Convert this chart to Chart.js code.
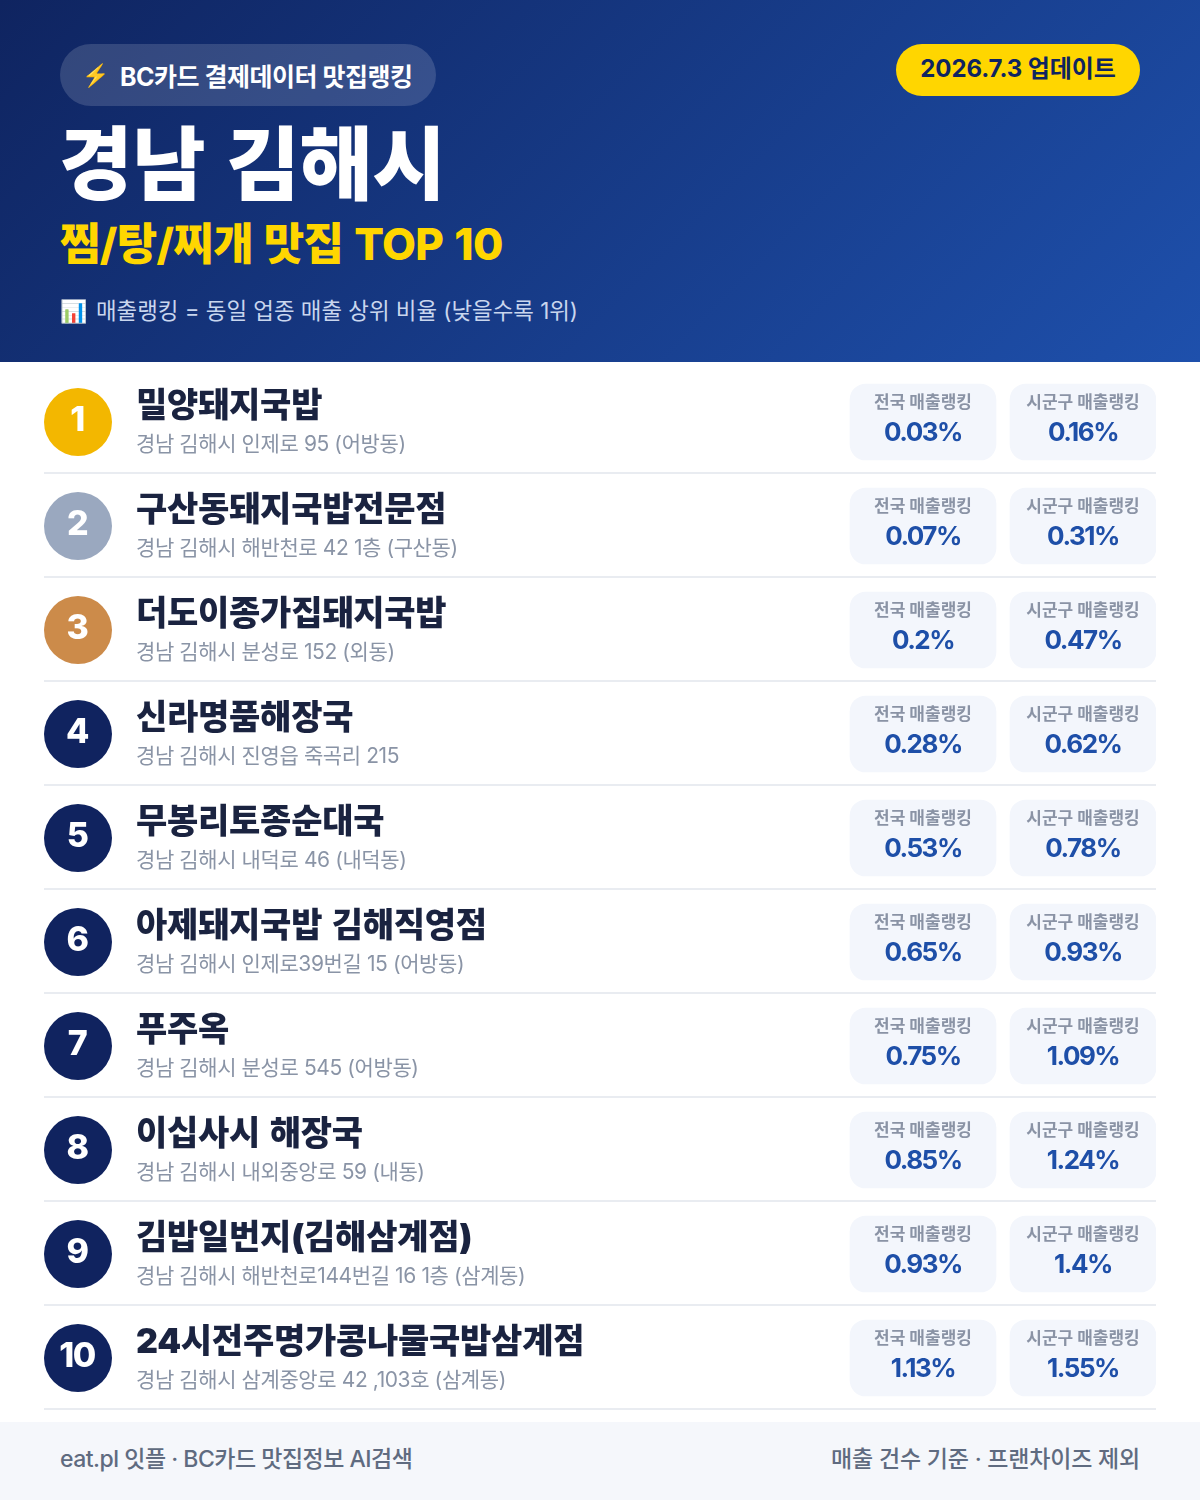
<!DOCTYPE html>
<html lang="ko"><head><meta charset="utf-8">
<script src="https://cdn.jsdelivr.net/npm/chart.js@4"></script>
<style>
*{box-sizing:border-box}
html,body{margin:0;padding:0;background:#fff}
body{width:1200px;height:1500px;position:relative;overflow:hidden;font-family:Inter,"Noto Sans CJK KR",sans-serif}
#head{position:absolute;left:0;top:0;width:1200px;height:362px;background:linear-gradient(135deg,#0f2460 0%,#1e50ac 100%)}
#head div,#foot div{position:absolute;white-space:nowrap;line-height:1}
#badge{left:60px;top:44px;width:376px;height:62px;border-radius:31px;background:rgba(255,255,255,.15)}
#badgeE{left:82px;top:64px;font-size:22px}
#badgeT{left:120px;top:65px;font-size:25px;font-weight:700;color:#fff;letter-spacing:-.5px}
#date{left:896px;top:44px;width:244px;height:52px;border-radius:26px;background:#FFD600}
#dateT{left:896px;width:244px;text-align:center;top:57px;font-size:24px;font-weight:700;color:#0f2460;letter-spacing:-.1px}
#title{left:59px;top:124px;font-size:80px;font-weight:900;color:#fff;letter-spacing:-.6px;word-spacing:6px}
#sub{left:60px;top:222px;font-size:44px;font-weight:800;color:#FFD600;letter-spacing:-.7px;word-spacing:2px}
#noteE{left:60px;top:300px;font-size:22px}
#noteT{left:96px;top:300px;font-size:22.4px;font-weight:400;color:#c9d6ee}
#wrap{position:absolute;left:0;top:362px;width:1200px;height:1060px}
#foot{position:absolute;left:0;top:1422px;width:1200px;height:78px;background:#f5f7fb}
#footL{left:60px;top:26px;font-size:23px;font-weight:500;color:#5f6b80;letter-spacing:-.5px}
#footR{right:60px;top:26px;font-size:23px;font-weight:500;color:#5f6b80;letter-spacing:-.2px}
</style></head><body>
<div id="head">
<div id="badge"></div><div id="badgeE">⚡</div><div id="badgeT">BC카드 결제데이터 맛집랭킹</div>
<div id="date"></div><div id="dateT">2026.7.3 업데이트</div>
<div id="title">경남 김해시</div>
<div id="sub">찜/탕/찌개 맛집 TOP 10</div>
<div id="noteE">📊</div><div id="noteT">매출랭킹 = 동일 업종 매출 상위 비율 (낮을수록 1위)</div>
</div>
<div id="wrap"><canvas id="c" width="1200" height="1060"></canvas></div>
<div id="foot"><div id="footL">eat.pl 잇플 · BC카드 맛집정보 AI검색</div><div id="footR">매출 건수 기준 · 프랜차이즈 제외</div></div>
<script>
const ranks = [1,2,3,4,5,6,7,8,9,10];
const names = ["밀양돼지국밥","구산동돼지국밥전문점","더도이종가집돼지국밥","신라명품해장국","무봉리토종순대국","아제돼지국밥 김해직영점","푸주옥","이십사시 해장국","김밥일번지(김해삼계점)","24시전주명가콩나물국밥삼계점"];
const addresses = ["경남 김해시 인제로 95 (어방동)","경남 김해시 해반천로 42 1층 (구산동)","경남 김해시 분성로 152 (외동)","경남 김해시 진영읍 죽곡리 215","경남 김해시 내덕로 46 (내덕동)","경남 김해시 인제로39번길 15 (어방동)","경남 김해시 분성로 545 (어방동)","경남 김해시 내외중앙로 59 (내동)","경남 김해시 해반천로144번길 16 1층 (삼계동)","경남 김해시 삼계중앙로 42 ,103호 (삼계동)"];
const nationalRank = ["0.03%","0.07%","0.2%","0.28%","0.53%","0.65%","0.75%","0.85%","0.93%","1.13%"];
const districtRank = ["0.16%","0.31%","0.47%","0.62%","0.78%","0.93%","1.09%","1.24%","1.4%","1.55%"];
const nationalLabel = "전국 매출랭킹";
const districtLabel = "시군구 매출랭킹";

// layout of the table columns, in x-scale units
const X_MIN=44, X_MAX=1156;
const COL_CIRCLE=78, COL_TEXT=136, COL_A=[850,996], COL_B=[1010,1156];
const circleColors=["#F3B700","#9AA8BF","#CC8B4A"].concat(Array(7).fill("#10235F"));
const FONT='Inter,"Noto Sans CJK KR",sans-serif';

const tablePlugin={id:'tableText',afterDatasetsDraw(chart){
  const {ctx,scales:{x,y}}=chart;
  ctx.save();
  ranks.forEach((r,i)=>{
    const cy=y.getPixelForValue(r);
    const put=(t,px,py,font,col,al,ls,ws)=>{ctx.font=font+' '+FONT;ctx.fillStyle=col;ctx.textAlign=al;ctx.textBaseline='alphabetic';ctx.letterSpacing=ls||'0px';ctx.wordSpacing=ws||'0px';ctx.fillText(t,px,py);};
    put(String(r),x.getPixelForValue(COL_CIRCLE)-1,cy+9,'800 34px','#fff','center','-1.5px');
    put(names[i],x.getPixelForValue(COL_TEXT),cy-5,'900 34px','#1a2340','left','-0.25px','3px');
    put(addresses[i],x.getPixelForValue(COL_TEXT),cy+29,'400 21px','#8a94a6','left','-0.4px');
    const ca=x.getPixelForValue((COL_A[0]+COL_A[1])/2), cb=x.getPixelForValue((COL_B[0]+COL_B[1])/2);
    put(nationalLabel,ca,cy-14,'700 17px','#8a93a5','center');
    put(districtLabel,cb,cy-14,'700 17px','#8a93a5','center');
    put(nationalRank[i],ca,cy+19,'700 26px','#1e4fa8','center','-1.5px');
    put(districtRank[i],cb,cy+19,'700 26px','#1e4fa8','center','-1.5px');
  });
  ctx.restore();
}};

new Chart(document.getElementById('c'),{
  type:'bar',
  data:{datasets:[
    {type:'scatter',label:'순위',data:ranks.map(r=>({x:COL_CIRCLE,y:r})),pointRadius:34,pointHoverRadius:34,pointBackgroundColor:circleColors,pointBorderWidth:0,clip:false,order:0},
    {label:nationalLabel,data:ranks.map(r=>({x:COL_A,y:r})),backgroundColor:'#f3f6fc',borderRadius:16,borderSkipped:false,barThickness:76,grouped:false,order:1},
    {label:districtLabel,data:ranks.map(r=>({x:COL_B,y:r})),backgroundColor:'#f3f6fc',borderRadius:16,borderSkipped:false,barThickness:76,grouped:false,order:1}
  ]},
  options:{
    indexAxis:'y',responsive:false,animation:false,events:[],
    layout:{autoPadding:false,padding:{left:44,right:44,top:8,bottom:12}},
    plugins:{legend:{display:false},tooltip:{enabled:false}},
    scales:{
      x:{type:'linear',display:false,min:X_MIN,max:X_MAX,offset:false},
      y:{type:'linear',reverse:true,min:0.5,max:10.5,offset:false,
         afterBuildTicks(s){s.ticks=ranks.map(r=>({value:r+0.5-1/104}));},
         ticks:{display:false},border:{display:false},
         grid:{color:'#e9ecf1',lineWidth:2,drawTicks:false,offset:false,z:-1}}
    }
  },
  plugins:[tablePlugin]
});
</script>
</body></html>
